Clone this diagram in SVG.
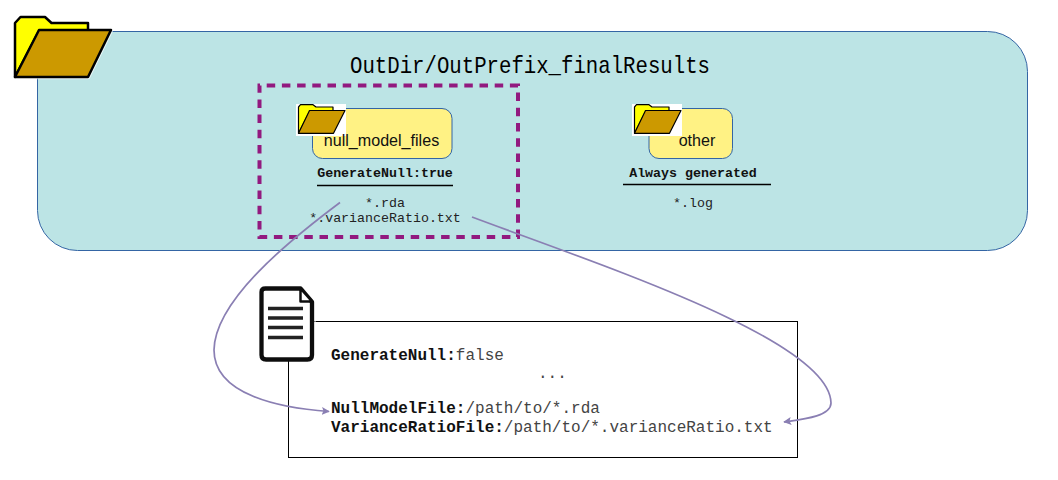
<svg xmlns="http://www.w3.org/2000/svg" width="1058" height="480" viewBox="0 0 1058 480">
<style>
.mono{font-family:"Liberation Mono","DejaVu Sans Mono",monospace;fill:#222}
.sans{font-family:"Liberation Sans",Arial,sans-serif;fill:#111}
.small{font-size:13.3px}
.code{font-size:16px;fill:#444}
.b{font-weight:bold;fill:#111}
.node{fill:#fff284;stroke:#3465a4;stroke-width:1}
.rule{stroke:#000;stroke-width:1.3}
.link{fill:none;stroke:#8a7fb3;stroke-width:1.7;marker-end:url(#arrow)}
.back{fill:#ff0;stroke:#000;stroke-linejoin:round}
.front{fill:#cc9900;stroke:#000;stroke-linejoin:round}
.docline{stroke:#222;stroke-width:3.400}
</style>
<defs>
<marker id="arrow" viewBox="0 0 10 10" refX="9" refY="5" markerWidth="8" markerHeight="9" markerUnits="userSpaceOnUse" orient="auto"><path d="M0 0L10 5L0 10L2 5Z" fill="#8a7fb3"/></marker>
<filter id="soft" x="-5%" y="-5%" width="110%" height="110%"><feGaussianBlur stdDeviation="0.4"/></filter>
<g id="mini">
<rect x="296" y="104" width="50" height="32" fill="#fff"/>
<path class="back" stroke-width="1.2" d="M298.500 133.300V107L300.500 104.700H313L316 107H333V111H310Z"/>
<path class="front" stroke-width="1.2" d="M309.500 110.500H345L333.500 133.300H298.500Z"/>
</g>
</defs>
<g id="results">
<rect x="37.500" y="31.500" width="990" height="219" rx="40" ry="40" fill="#bce4e5" stroke="#3465a4" stroke-width="1"/>
<text class="mono" x="350" y="73" font-size="24" textLength="360" lengthAdjust="spacingAndGlyphs" style="fill:#000">OutDir/OutPrefix_finalResults</text>
<g id="big-folder">
<path d="M39 30H111L88 77H15Z" fill="none" stroke="#fff" stroke-width="4.500" stroke-linejoin="round" opacity="0.700"/>
<path class="back" stroke-width="2.500" d="M15 77V23L20.500 17H45L51.500 23H88V31H39Z"/>
<path class="front" stroke-width="2.500" d="M39 30H111L88 77H15Z"/>
</g>
</g>
<g id="null-group">
<rect x="259.500" y="85.500" width="258.500" height="151.500" fill="none" stroke="#92197f" stroke-width="4" stroke-dasharray="8.500 6.700" stroke-dashoffset="8"/>
</g>
<g id="null_model_files">
<rect class="node" x="312.500" y="108.500" width="139.500" height="50" rx="10" ry="10"/>
<use href="#mini"/>
<text class="sans" x="381.500" y="146" font-size="16.100" text-anchor="middle">null_model_files</text>
<text class="mono small b" x="385" y="177" text-anchor="middle">GenerateNull:true</text>
<line class="rule" x1="317" y1="185.500" x2="453" y2="185.500"/>
<text class="mono small" x="385" y="207" text-anchor="middle">*.rda</text>
<text class="mono small" x="385" y="222" text-anchor="middle">*.varianceRatio.txt</text>
</g>
<g id="other">
<rect class="node" x="649" y="108.500" width="83.500" height="50" rx="10" ry="10"/>
<use href="#mini" x="336"/>
<text class="sans" x="697" y="146" font-size="16.100" text-anchor="middle">other</text>
<text class="mono small b" x="693" y="177" text-anchor="middle">Always generated</text>
<line class="rule" x1="623" y1="184.500" x2="771" y2="184.500"/>
<text class="mono small" x="693" y="207" text-anchor="middle">*.log</text>
</g>
<g id="config">
<rect x="288.500" y="321.500" width="509" height="136" fill="#fff" stroke="#000" stroke-width="1"/>
<text class="mono code" x="331" y="360"><tspan class="b">GenerateNull:</tspan>false</text>
<text class="mono code" x="538" y="378">...</text>
<text class="mono code" x="331" y="413"><tspan class="b">NullModelFile:</tspan>/path/to/*.rda</text>
<text class="mono code" x="331" y="432"><tspan class="b">VarianceRatioFile:</tspan>/path/to/*.varianceRatio.txt</text>
</g>
<g id="document">
<rect x="257" y="285" width="59" height="36.500" fill="#fff"/>
<g filter="url(#soft)">
<path d="M261.500 292Q261.500 288.500 265.500 288.500H300.500L312 302V355Q312 359.500 307.500 359.500H266Q261.500 359.500 261.500 355Z" fill="#fff" stroke="#111" stroke-width="4.300" stroke-linejoin="round"/>
<path d="M300.500 288.500V301.500H312Z" fill="#fff" stroke="#111" stroke-width="2.500" stroke-linejoin="round"/>
<line class="docline" x1="268" y1="308.500" x2="303" y2="308.500"/>
<line class="docline" x1="268" y1="318" x2="303" y2="318"/>
<line class="docline" x1="268" y1="327.500" x2="303" y2="327.500"/>
<line class="docline" x1="268" y1="337.500" x2="303" y2="337.500"/>
</g>
</g>
<g id="connectors">
<path class="link" d="M340 202.500C290 240 215 300 214 350C214 395 280 408 329 411.500"/>
<path class="link" d="M472 217C600 265 830 340 831 403C831 416 805 419 784 422"/>
</g>
</svg>
